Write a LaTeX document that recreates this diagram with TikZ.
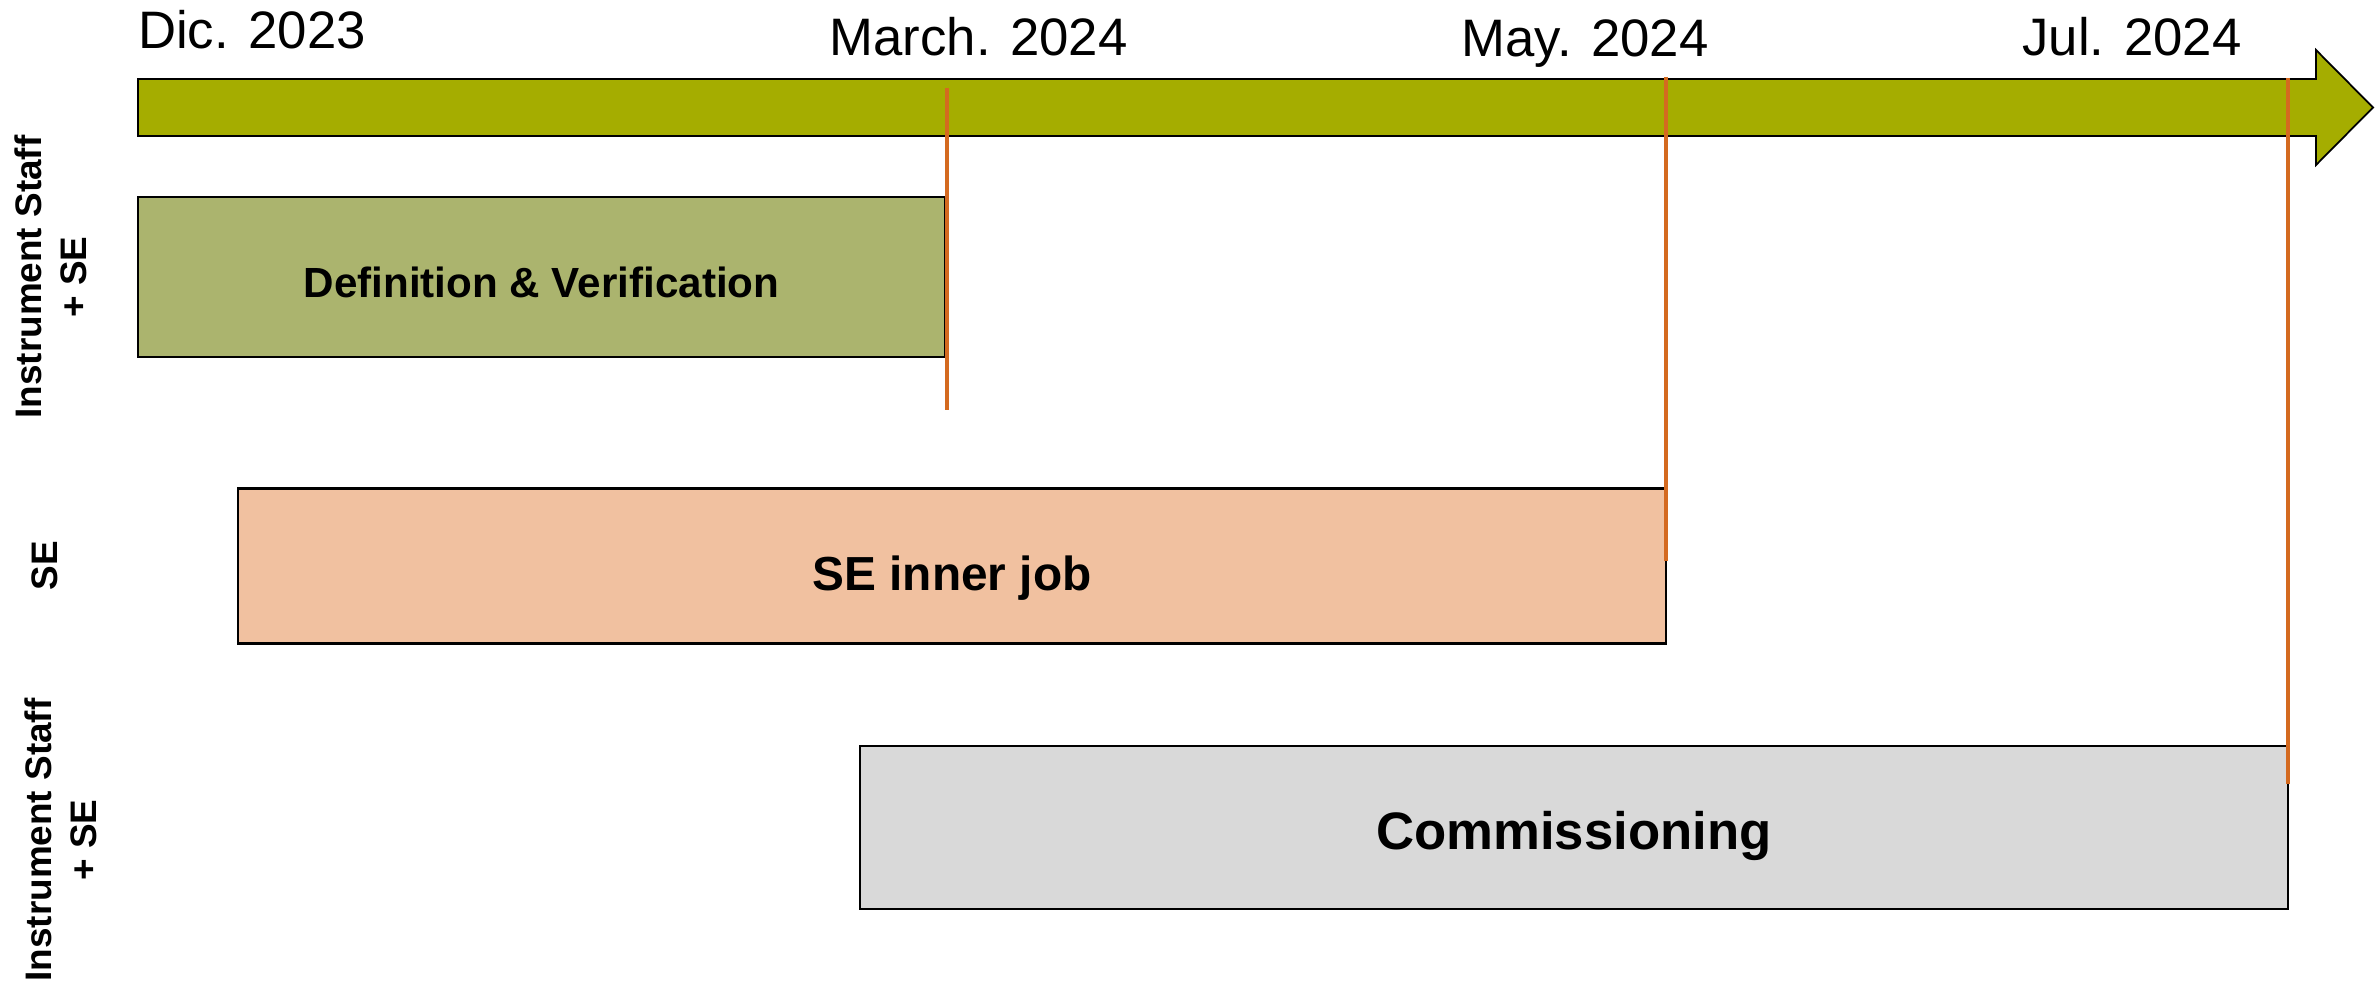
\documentclass[tikz,border=0pt]{standalone}
\usepackage{fontspec}
\setmainfont{Liberation Sans}
\definecolor{timeolive}{RGB}{165,173,0}
\definecolor{defgreen}{RGB}{171,180,110}
\definecolor{innerpeach}{RGB}{241,193,160}
\definecolor{commgray}{RGB}{217,217,217}
\definecolor{milestone}{RGB}{212,106,32}

\begin{document}
\begin{tikzpicture}[
  datelabel/.style={anchor=base, font=\fontsize{15}{18}\selectfont},
  phase/.style={draw=black, line width=0.6pt, inner sep=0pt, text depth=0pt},
  who/.style={rotate=90, align=center, font=\fontsize{10.5}{12.8}\selectfont\bfseries},
  milestoneline/.style={draw=milestone, line width=1.1pt}
]
\useasboundingbox (0,0) rectangle (23.79,-9.85);

%time arrow
\draw [fill=timeolive, line width=0.5pt] (1.38,-0.79) -- (23.16,-0.79) -- (23.16,-0.50)
  -- (23.73,-1.075) -- (23.16,-1.65) -- (23.16,-1.36) -- (1.38,-1.36) -- cycle;

%dates
\node [datelabel] (dic) at (2.52,-0.49){Dic. 2023};
\node [datelabel] (mar) at (9.785,-0.56){March. 2024};
\node [datelabel] (may) at (15.85,-0.57){May. 2024};
\node [datelabel] (jul) at (21.32,-0.56){Jul. 2024};

%phases
\node [phase, fill=defgreen, minimum width=8.07cm, minimum height=1.60cm, text height=11.4pt,
  font=\fontsize{12}{14}\selectfont\bfseries] (defver) at (5.415,-2.77){Definition \& Verification};
\node [phase, fill=innerpeach, minimum width=14.28cm, minimum height=1.55cm, text height=14.2pt,
  font=\fontsize{13.6}{16}\selectfont\bfseries] (innerjob) at (9.52,-5.66){SE inner job};
\node [phase, fill=commgray, minimum width=14.28cm, minimum height=1.63cm, text height=12.7pt,
  font=\fontsize{15}{18}\selectfont\bfseries] (comm) at (15.74,-8.275){Commissioning};

%milestones
\coordinate (m1top) at (9.47,-0.88);
\coordinate (m1bot) at (9.47,-4.10);
\coordinate (m2top) at (16.66,-0.77);
\coordinate (m2bot) at (16.66,-5.61);
\coordinate (m3top) at (22.88,-0.78);
\coordinate (m3bot) at (22.88,-7.84);
\draw [milestoneline] (m1top) -- (m1bot);
\draw [milestoneline] (m2top) -- (m2bot);
\draw [milestoneline] (m3top) -- (m3bot);

%who does it
\node [who] (who1) at (0.51,-2.77){Instrument Staff\\+ SE};
\node [who] (who2) at (0.45,-5.66){SE};
\node [who] (who3) at (0.61,-8.40){Instrument Staff\\+ SE};
\end{tikzpicture}
\end{document}
